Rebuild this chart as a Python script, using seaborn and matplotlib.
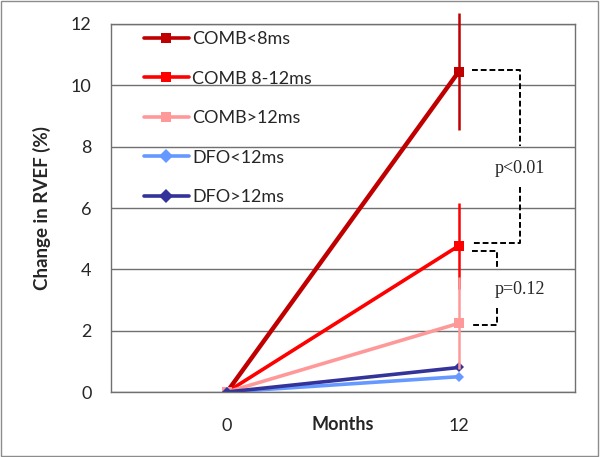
import numpy as np
import pandas as pd
import matplotlib
matplotlib.use("Agg")
import matplotlib.pyplot as plt
import seaborn as sns

# data
months = ["0", "12"]
groups = ["COMB<8ms", "COMB 8-12ms", "COMB>12ms", "DFO<12ms", "DFO>12ms"]
change_0 = [0.0, 0.0, 0.0, 0.0, 0.0]
change_12 = [10.45, 4.77, 2.24, 0.50, 0.80]
err_12 = [1.9, 1.4, 1.5, 0.0, 0.0]
colors = ["#C00000", "#FF0000", "#FF9999", "#6699FF", "#333399"]
markers = ["s", "s", "s", "D", "D"]

# bracket annotations (y in data units)
p_labels = ["p<0.01", "p=0.12"]

sns.set_style("white")
plt.rcParams["font.family"] = ["Lato", "DejaVu Sans"]

rows = []
for g, a, b in zip(groups, change_0, change_12):
    rows.append({"group": g, "pos": 0, "change": a})
    rows.append({"group": g, "pos": 1, "change": b})
df = pd.DataFrame(rows)

fig = plt.figure(figsize=(6, 4.57), dpi=100)
ax = fig.add_axes([0.185, 0.1422, 0.773, 0.8053])

sns.lineplot(data=df, x="pos", y="change", hue="group", style="group",
             hue_order=groups, style_order=groups,
             palette=dict(zip(groups, colors)),
             markers=dict(zip(groups, markers)), dashes=False,
             linewidth=2.6, markersize=7, markeredgewidth=0, ax=ax)
for line, g in zip(ax.lines, groups):
    if g.startswith("DFO"):
        line.set_markersize(5)
    if g == "COMB<8ms":
        line.set_linewidth(3.2)

# error bars at 12 months
for i, (g, c) in enumerate(zip(groups, colors)):
    if err_12[i] > 0:
        eb = ax.errorbar(1, change_12[i], yerr=err_12[i], fmt="none",
                         ecolor=c, elinewidth=1.8, capsize=0, zorder=3)
        for coll in eb[2]:
            coll.set_clip_on(False)

# dashed significance brackets
dash = dict(color="black", lw=1.4, ls=(0, (3, 1.5)))
ax.plot([1.056, 1.263, 1.263], [10.5, 10.5, 8.02], **dash)
ax.plot([1.263, 1.263, 1.056], [6.68, 4.86, 4.86], **dash)
ax.text(1.263, 7.3, p_labels[0], ha="center", va="center", fontsize=13,
        family="Liberation Serif")
ax.plot([1.056, 1.164, 1.164], [4.61, 4.61, 4.04], **dash)
ax.plot([1.164, 1.164, 1.056], [2.74, 2.18, 2.18], **dash)
ax.text(1.263, 3.33, p_labels[1], ha="center", va="center", fontsize=13,
        family="Liberation Serif")

ax.set_xlim(-0.5, 1.5)
ax.set_ylim(0, 12)
ax.set_yticks(np.arange(0, 13, 2))
ax.set_xticks([0, 1])
ax.set_xticklabels(months)
ax.set_xticks([-0.5, 0.5, 1.5], minor=True)
ax.tick_params(axis="x", which="major", length=0, pad=19, labelsize=13, colors="#262626")
ax.tick_params(axis="x", which="minor", length=5, width=1, color="#707070", direction="out")
ax.tick_params(axis="y", length=5, width=1, color="#707070", direction="out", pad=9,
               labelsize=13, labelcolor="#262626")
ax.grid(axis="y", color="#707070", lw=1)
ax.set_axisbelow(True)
for s in ax.spines.values():
    s.set_color("#707070")
    s.set_linewidth(1)

ax.set_ylabel("Change in RVEF (%)", fontsize=13.5, fontweight="bold", labelpad=14)
ax.set_xlabel("Months", fontsize=13, fontweight="bold")
ax.xaxis.set_label_coords(0.5, -0.065)

leg = ax.legend(loc="upper left", bbox_to_anchor=(0.055, 1.0), frameon=False,
                fontsize=13, handlelength=2.5, handletextpad=0.2,
                labelspacing=1.3, borderaxespad=0)
for h in leg.legend_handles:
    h.set_linewidth(2.6)

fig.add_artist(plt.Rectangle((0.002, 0.003), 0.994, 0.994, transform=fig.transFigure,
                             fill=False, ec="#8c8c8c", lw=1))

fig.savefig("out.png", dpi=100)
